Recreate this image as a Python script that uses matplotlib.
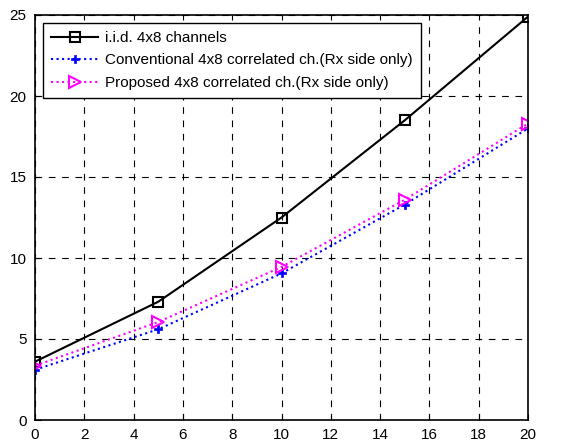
import matplotlib
matplotlib.use('Agg')
import matplotlib.pyplot as plt

# data
snr = [0, 5, 10, 15, 20]
iid = [3.6, 7.3, 12.5, 18.5, 24.9]
conventional = [3.1, 5.6, 9.05, 13.3, 18.0]
proposed = [3.35, 6.05, 9.45, 13.6, 18.3]

xticks = list(range(0, 21, 2))
yticks = [0, 5, 10, 15, 20, 25]

plt.rcParams['font.family'] = ['Liberation Sans', 'DejaVu Sans']

fig = plt.figure(figsize=(5.72, 4.46), dpi=100)
ax = fig.add_axes([35 / 572, 1 - 420 / 446, 493 / 572, 405 / 446])

ax.plot(snr, iid, color='k', lw=1.5, marker='s', ms=7, mfc='none', mew=1.5,
        label='i.i.d. 4x8 channels')
ax.plot(snr, conventional, color='b', lw=1.5, ls=':', marker='P', ms=5.5, mew=0.5,
        label='Conventional 4x8 correlated ch.(Rx side only)')
ax.plot(snr, proposed, color='magenta', lw=1.5, ls=':', marker='>', ms=8, mfc='none', mew=1.5,
        label='Proposed 4x8 correlated ch.(Rx side only)')

ax.set_xlim(0, 20)
ax.set_ylim(0, 25)
ax.set_xticks(xticks)
ax.set_yticks(yticks)
ax.grid(True, color='k', ls=(0, (6, 6)), lw=0.8)
ax.tick_params(direction='in', labelsize=11, length=4, pad=6)
for s in ax.spines.values():
    s.set_linewidth(1.2)

leg = ax.legend(loc='upper left', fontsize=11, fancybox=False, framealpha=1,
                edgecolor='k', handlelength=3.1, handletextpad=0.45,
                borderaxespad=0.5, borderpad=0.55, labelspacing=0.55)
leg.get_frame().set_linewidth(1.0)

fig.savefig('out.png', dpi=100)
